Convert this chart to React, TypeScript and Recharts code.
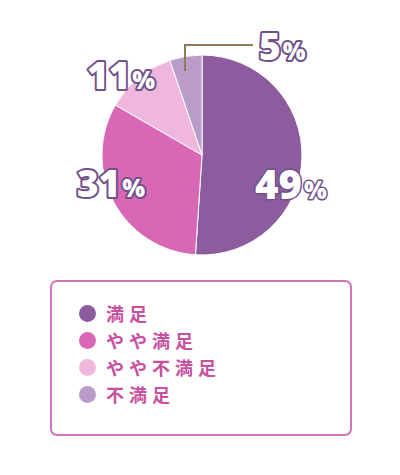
import React from "react";
import { PieChart, Pie, Cell, Legend } from "recharts";

const categories = ["満足", "やや満足", "やや不満足", "不満足"];
const values = [49, 31, 11, 5];
const colors = ["#8c5c9f", "#d867b6", "#f0b7dc", "#b99cc7"];

const data = categories.map((name, i) => ({ name, value: values[i] }));

const OUTLINE = "#70508a";
const LABEL_OFFSETS = [
  { dx: 53, dy: 44 },
  { dx: -125, dy: 42 },
  { dx: -115, dy: -66 },
  { dx: 57, dy: -95 },
];

const renderLabel = (props: any) => {
  const { cx, cy, index, value } = props;
  const off = LABEL_OFFSETS[index];
  const x = cx + off.dx;
  const y = cy + off.dy;
  const big = index === 0 ? 40 : 37;
  return (
    <g>
      {index === 3 && (
        <polyline
          points={`${cx - 17},${cy - 84} ${cx - 17},${cy - 110} ${cx + 51},${cy - 110}`}
          fill="none"
          stroke="#8f7c55"
          strokeWidth={2}
        />
      )}
      <text
        x={x}
        y={y}
        fill="#ffffff"
        stroke={OUTLINE}
        strokeWidth={index === 0 ? 3 : 4}
        strokeLinejoin="round"
        paintOrder="stroke"
        fontFamily="'Open Sans', sans-serif"
        fontWeight={800}
        textAnchor="start"
      >
        <tspan fontSize={big}>{value}</tspan>
        <tspan fontSize={24} dx={2}>%</tspan>
      </text>
    </g>
  );
};

const renderLegend = () => (
  <div
    style={{
      width: 302,
      height: 156,
      border: "2px solid #cc76b6",
      borderRadius: 7,
      boxSizing: "border-box",
      paddingTop: 18,
      paddingLeft: 27,
      background: "#fff",
    }}
  >
    {data.map((d, i) => (
      <div
        key={d.name}
        style={{ display: "flex", alignItems: "center", height: 27 }}
      >
        <span
          style={{
            display: "inline-block",
            width: 17,
            height: 17,
            borderRadius: "50%",
            background: colors[i],
            marginRight: 10,
          }}
        />
        <span
          style={{
            fontFamily: "'Noto Sans CJK JP', sans-serif",
            fontWeight: 700,
            fontSize: 18,
            letterSpacing: 5,
            color: "#c8519f",
            lineHeight: "27px",
          }}
        >
          {d.name}
        </span>
      </div>
    ))}
  </div>
);

export default function App() {
  return (
    <div
      style={{
        position: "absolute",
        left: 0,
        top: 0,
        width: 400,
        height: 475,
        background: "#ffffff",
      }}
    >
      <PieChart width={400} height={475} margin={{ top: 0, right: 0, bottom: 0, left: 0 }}>
        <Pie
          data={data}
          dataKey="value"
          nameKey="name"
          cx={202}
          cy={155}
          outerRadius={100}
          startAngle={90}
          endAngle={-270}
          stroke="#ffffff"
          strokeWidth={1}
          label={renderLabel}
          labelLine={false}
          isAnimationActive={false}
        >
          {data.map((d, i) => (
            <Cell key={d.name} fill={colors[i]} />
          ))}
        </Pie>
        <Legend
          content={renderLegend}
          wrapperStyle={{ position: "absolute", left: 50, top: 280, width: 302, height: 156 }}
        />
      </PieChart>
    </div>
  );
}
